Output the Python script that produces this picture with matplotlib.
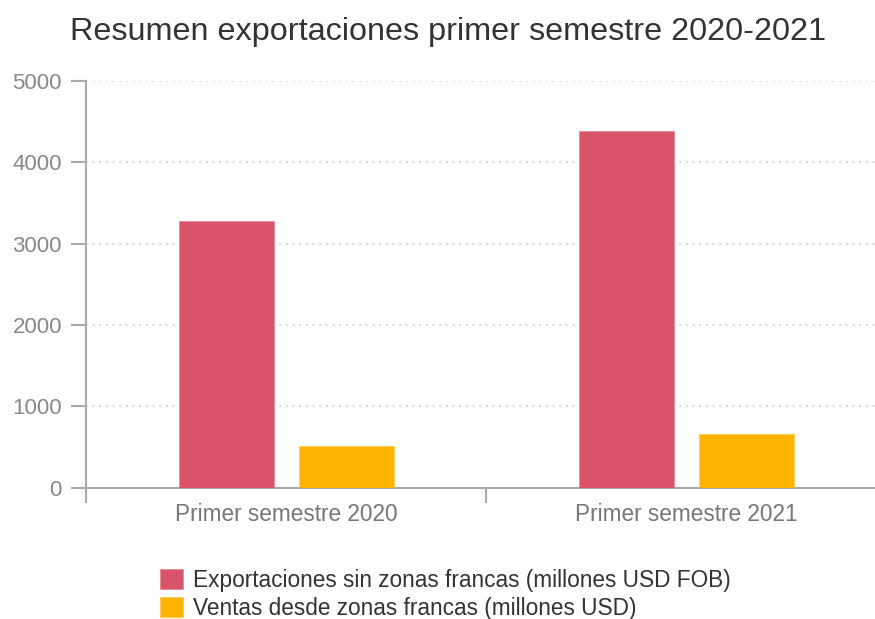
import matplotlib
matplotlib.use("Agg")
import matplotlib.pyplot as plt
import numpy as np

categories = ["Primer semestre 2020", "Primer semestre 2021"]
series_names = ["Exportaciones sin zonas francas (millones USD FOB)",
                "Ventas desde zonas francas (millones USD)"]
export_values = [3280, 4386]
ventas_values = [516, 656]
y_ticks = [0, 1000, 2000, 3000, 4000, 5000]

plt.rcParams['font.family'] = ['Liberation Sans', 'DejaVu Sans']

W, H = 875, 619
fig = plt.figure(figsize=(W / 100, H / 100), dpi=100)
ax = fig.add_axes([86 / W, 1 - 487.7 / H, 800 / W, (487.7 - 80.7) / H])

x = np.arange(len(categories))
bw = 0.2375
off = 0.15
red = "#D9536A"
yellow = "#FFB400"
ax.bar(x - off, export_values, width=bw, color=red, edgecolor="#E88A9A", linewidth=0.6,
       label=series_names[0], zorder=3)
ax.bar(x + off, ventas_values, width=bw, color=yellow, edgecolor="#FFCB55", linewidth=0.6,
       label=series_names[1], zorder=3)

ax.set_xlim(-0.5, 1.5)
ax.set_ylim(0, 5000)
ax.set_yticks(y_ticks)
ax.set_yticklabels([str(v) for v in y_ticks])

# category boundary ticks
ax.set_xticks([-0.5, 0.5])
ax.set_xticklabels([])
ax.set_xticks(x, minor=True)
ax.set_xticklabels(categories, minor=True)
ax.tick_params(axis='x', which='minor', length=0, pad=11, labelsize=16.3, labelcolor="#777777")
ax.tick_params(axis='x', which='major', length=10.8, width=1.5, color="#AAAAAA", direction='out')
ax.tick_params(axis='y', length=10.8, width=1.5, color="#AAAAAA", direction='out',
               labelsize=16, labelcolor="#888888", pad=6.5)

for s in ['top', 'right']:
    ax.spines[s].set_visible(False)
for s in ['left', 'bottom']:
    ax.spines[s].set_color("#AAAAAA")
    ax.spines[s].set_linewidth(1.5)

for v in y_ticks[1:]:
    ax.axhline(v, color="#CCCCCC", linestyle=(0, (1, 3)), linewidth=1.2, zorder=1)

fig.text(448 / W, 1 - 32 / H, "Resumen exportaciones primer semestre 2020-2021",
         ha='center', va='center', fontsize=23.3, color="#333333")

leg = fig.legend(loc='upper left', bbox_to_anchor=(160 / W, 1 - 569 / H),
                 frameon=False, fontsize=16.3, handlelength=1.0, handleheight=1.0,
                 handletextpad=0.45, labelspacing=0.22, borderpad=0, borderaxespad=0)
for t in leg.get_texts():
    t.set_color("#333333")

fig.savefig("out.png", dpi=100)
